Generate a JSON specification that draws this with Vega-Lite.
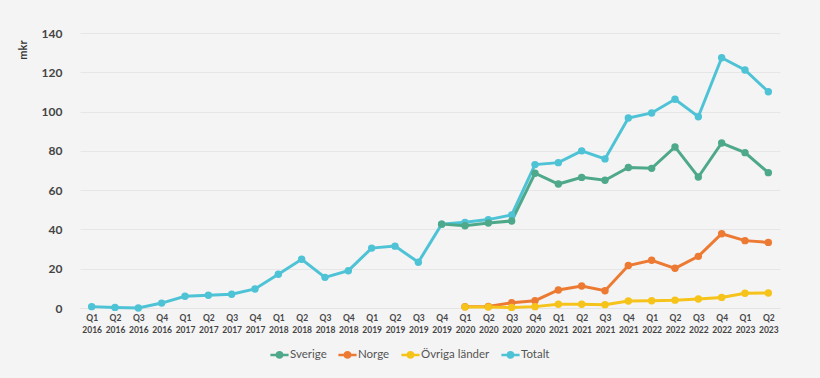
{
  "$schema": "https://vega.github.io/schema/vega-lite/v6.json",
  "autosize": {"type": "none"},
  "width": 700,
  "height": 275,
  "padding": {"left": 80, "top": 33, "right": 40, "bottom": 70},
  "background": "#f4f4f4",
  "config": {
    "view": {"stroke": null},
    "font": "Lato",
    "axis": {"labelFont": "Lato", "titleFont": "Lato"},
    "legend": {"labelFont": "Lato"}
  },
  "data": {
    "values": [
      {"q": "Q1 2016", "serie": "Totalt", "v": 0.7},
      {"q": "Q2 2016", "serie": "Totalt", "v": 0.3},
      {"q": "Q3 2016", "serie": "Totalt", "v": 0.0},
      {"q": "Q4 2016", "serie": "Totalt", "v": 2.5},
      {"q": "Q1 2017", "serie": "Totalt", "v": 6.0},
      {"q": "Q2 2017", "serie": "Totalt", "v": 6.5},
      {"q": "Q3 2017", "serie": "Totalt", "v": 7.0},
      {"q": "Q4 2017", "serie": "Totalt", "v": 9.7},
      {"q": "Q1 2018", "serie": "Totalt", "v": 17.2},
      {"q": "Q2 2018", "serie": "Totalt", "v": 24.8},
      {"q": "Q3 2018", "serie": "Totalt", "v": 15.6},
      {"q": "Q4 2018", "serie": "Totalt", "v": 19.0},
      {"q": "Q1 2019", "serie": "Totalt", "v": 30.5},
      {"q": "Q2 2019", "serie": "Totalt", "v": 31.5},
      {"q": "Q3 2019", "serie": "Totalt", "v": 23.3},
      {"q": "Q4 2019", "serie": "Totalt", "v": 42.7},
      {"q": "Q1 2020", "serie": "Totalt", "v": 43.6},
      {"q": "Q2 2020", "serie": "Totalt", "v": 45.0},
      {"q": "Q3 2020", "serie": "Totalt", "v": 47.4},
      {"q": "Q4 2020", "serie": "Totalt", "v": 73.0},
      {"q": "Q1 2021", "serie": "Totalt", "v": 74.0},
      {"q": "Q2 2021", "serie": "Totalt", "v": 80.0},
      {"q": "Q3 2021", "serie": "Totalt", "v": 75.9},
      {"q": "Q4 2021", "serie": "Totalt", "v": 96.7},
      {"q": "Q1 2022", "serie": "Totalt", "v": 99.3},
      {"q": "Q2 2022", "serie": "Totalt", "v": 106.3},
      {"q": "Q3 2022", "serie": "Totalt", "v": 97.4},
      {"q": "Q4 2022", "serie": "Totalt", "v": 127.4},
      {"q": "Q1 2023", "serie": "Totalt", "v": 121.2},
      {"q": "Q2 2023", "serie": "Totalt", "v": 110.1},
      {"q": "Q4 2019", "serie": "Sverige", "v": 42.7},
      {"q": "Q1 2020", "serie": "Sverige", "v": 41.9},
      {"q": "Q2 2020", "serie": "Sverige", "v": 43.3},
      {"q": "Q3 2020", "serie": "Sverige", "v": 44.3},
      {"q": "Q4 2020", "serie": "Sverige", "v": 68.6},
      {"q": "Q1 2021", "serie": "Sverige", "v": 63.1},
      {"q": "Q2 2021", "serie": "Sverige", "v": 66.5},
      {"q": "Q3 2021", "serie": "Sverige", "v": 65.0},
      {"q": "Q4 2021", "serie": "Sverige", "v": 71.5},
      {"q": "Q1 2022", "serie": "Sverige", "v": 71.1},
      {"q": "Q2 2022", "serie": "Sverige", "v": 82.0},
      {"q": "Q3 2022", "serie": "Sverige", "v": 66.7},
      {"q": "Q4 2022", "serie": "Sverige", "v": 84.0},
      {"q": "Q1 2023", "serie": "Sverige", "v": 79.1},
      {"q": "Q2 2023", "serie": "Sverige", "v": 68.9},
      {"q": "Q1 2020", "serie": "Norge", "v": 0.7},
      {"q": "Q2 2020", "serie": "Norge", "v": 0.8},
      {"q": "Q3 2020", "serie": "Norge", "v": 2.7},
      {"q": "Q4 2020", "serie": "Norge", "v": 3.7},
      {"q": "Q1 2021", "serie": "Norge", "v": 9.2},
      {"q": "Q2 2021", "serie": "Norge", "v": 11.2},
      {"q": "Q3 2021", "serie": "Norge", "v": 8.8},
      {"q": "Q4 2021", "serie": "Norge", "v": 21.6},
      {"q": "Q1 2022", "serie": "Norge", "v": 24.3},
      {"q": "Q2 2022", "serie": "Norge", "v": 20.2},
      {"q": "Q3 2022", "serie": "Norge", "v": 26.3},
      {"q": "Q4 2022", "serie": "Norge", "v": 37.8},
      {"q": "Q1 2023", "serie": "Norge", "v": 34.3},
      {"q": "Q2 2023", "serie": "Norge", "v": 33.4},
      {"q": "Q1 2020", "serie": "Övriga länder", "v": 0.5},
      {"q": "Q2 2020", "serie": "Övriga länder", "v": 0.5},
      {"q": "Q3 2020", "serie": "Övriga länder", "v": 0.3},
      {"q": "Q4 2020", "serie": "Övriga länder", "v": 0.7},
      {"q": "Q1 2021", "serie": "Övriga länder", "v": 1.9},
      {"q": "Q2 2021", "serie": "Övriga länder", "v": 1.9},
      {"q": "Q3 2021", "serie": "Övriga länder", "v": 1.7},
      {"q": "Q4 2021", "serie": "Övriga länder", "v": 3.6},
      {"q": "Q1 2022", "serie": "Övriga länder", "v": 3.7},
      {"q": "Q2 2022", "serie": "Övriga länder", "v": 4.0},
      {"q": "Q3 2022", "serie": "Övriga länder", "v": 4.6},
      {"q": "Q4 2022", "serie": "Övriga länder", "v": 5.4},
      {"q": "Q1 2023", "serie": "Övriga länder", "v": 7.5},
      {"q": "Q2 2023", "serie": "Övriga länder", "v": 7.6}
    ]
  },
  "encoding": {
    "x": {
      "field": "q",
      "type": "ordinal",
      "sort": null,
      "scale": {"type": "point", "padding": 0.5},
      "axis": {
        "title": null,
        "labelAngle": 0,
        "labelExpr": "split(datum.label, ' ')",
        "labelFontWeight": "bold",
        "labelFontSize": 8.5,
        "labelLineHeight": 12,
        "labelColor": "#444444",
        "labelPadding": 5,
        "ticks": false,
        "domain": true,
        "domainColor": "#e4e4e4",
        "grid": false
      }
    },
    "y": {
      "field": "v",
      "type": "quantitative",
      "scale": {"domain": [0, 140]},
      "axis": {
        "title": "mkr",
        "titleFontWeight": "bold",
        "titleFontSize": 11,
        "titleColor": "#333333",
        "titleAnchor": "end",
        "titleAlign": "right",
        "titleAngle": -90,
        "titleBaseline": "middle",
        "titleX": -57,
        "titleY": 7,
        "values": [0, 20, 40, 60, 80, 100, 120, 140],
        "labelFontWeight": "bold",
        "labelFontSize": 12,
        "labelColor": "#444444",
        "labelPadding": 18,
        "ticks": false,
        "domain": false,
        "grid": true,
        "gridColor": "#e6e6e6",
        "gridWidth": 1
      }
    },
    "color": {
      "field": "serie",
      "type": "nominal",
      "scale": {
        "domain": ["Sverige", "Norge", "Övriga länder", "Totalt"],
        "range": ["#4ea98a", "#ec7a33", "#f6c31a", "#4ec3d6"]
      },
      "legend": {
        "title": null,
        "orient": "none",
        "legendX": 189,
        "legendY": 311,
        "direction": "horizontal",
        "labelFontSize": 11.5,
        "labelColor": "#555555",
        "symbolType": "M-1,0L1,0M-0.3,0A0.3,0.3 0 1,1 0.3,0A0.3,0.3 0 1,1 -0.3,0",
        "symbolSize": 330,
        "symbolStrokeWidth": 2.5,
        "columnPadding": 6,
        "labelOffset": 0
      }
    }
  },
  "layer": [
    {"mark": {"type": "line", "strokeWidth": 3}},
    {"mark": {"type": "point", "filled": true, "size": 55, "opacity": 1}}
  ]
}
